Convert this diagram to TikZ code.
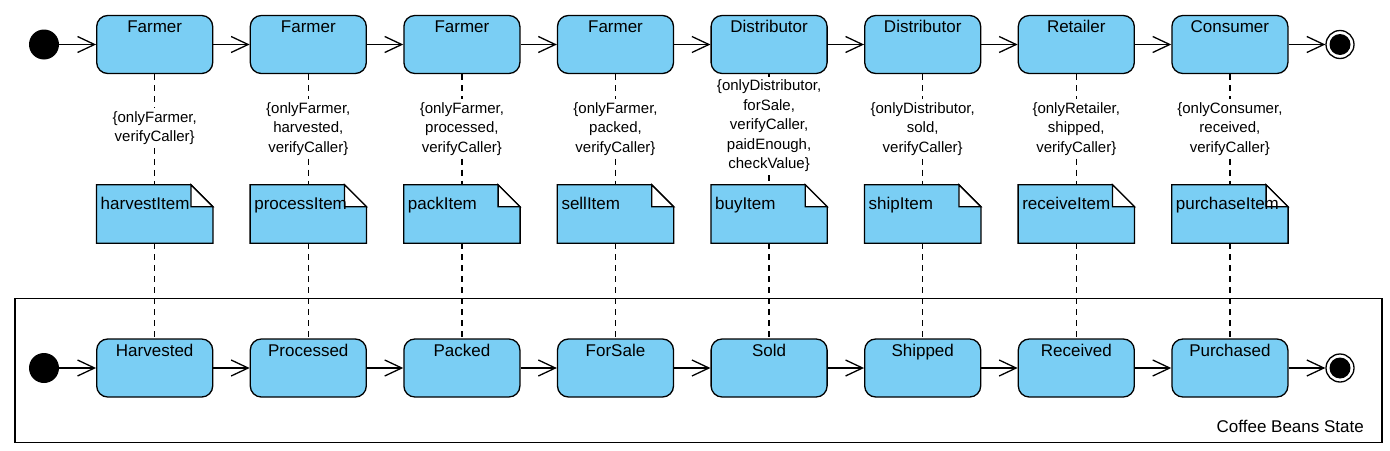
\documentclass[tikz,border=0pt]{standalone}
\usepackage{fontspec}
\setmainfont{Liberation Sans}
\usetikzlibrary{arrows.meta,backgrounds}
\definecolor{bfill}{HTML}{7ACEF4}
\tikzset{
 stbox/.style={draw, fill=bfill, rounded corners=11pt, line width=1.3pt, minimum width=116pt, minimum height=58pt, inner xsep=2pt, inner ysep=5pt, text height=12pt, text depth=36pt, font=\fontsize{17}{20}\selectfont},
 notebox/.style={minimum height=58pt, text width=108pt, align=left, inner xsep=4pt, inner ysep=4pt, text height=20pt, text depth=30pt, font=\fontsize{17}{20}\selectfont},
 cond/.style={align=center, font=\fontsize{15}{19.5}\selectfont, inner sep=3pt},
 flow/.style={-{Straight Barb[length=17pt,width=16pt,line width=1.3pt]}, line width=1.3pt},
 link/.style={dash pattern=on 6pt off 5pt, line width=1.3pt},
 startdot/.style={circle, fill=black, minimum size=30pt, inner sep=0pt},
 enddot/.style={circle, draw, fill=white, line width=1.3pt, minimum size=28pt, inner sep=0pt, path picture={\fill[black] (path picture bounding box.center) circle (10.5pt);}},
 framebox/.style={draw, line width=1.3pt},
}
\begin{document}
\begin{tikzpicture}[x=1pt,y=-1pt]
\useasboundingbox (0,0) rectangle (1390,450);
% frame
\draw[framebox] (15,298.3) rectangle (1382,442.5);
\node[font=\fontsize{17}{20}\selectfont, anchor=base east, inner sep=0pt] (title) at (1364,432) {Coffee Beans State};
% top row
\node[startdot] (s0) at (44,44.5) {};
\node[stbox] (a1) at (154.7,44.5) {Farmer};
\node[stbox] (a2) at (308.3,44.5) {Farmer};
\node[stbox] (a3) at (461.9,44.5) {Farmer};
\node[stbox] (a4) at (615.5,44.5) {Farmer};
\node[stbox] (a5) at (769.1,44.5) {Distributor};
\node[stbox] (a6) at (922.7,44.5) {Distributor};
\node[stbox] (a7) at (1076.3,44.5) {Retailer};
\node[stbox] (a8) at (1229.9,44.5) {Consumer};
\node[enddot] (e0) at (1340,44.5) {};
% conditions
\node[cond] (c1) at (154.7,128) {\{onlyFarmer,\\verifyCaller\}};
\node[cond] (c2) at (308.3,129) {\{onlyFarmer,\\harvested,\\verifyCaller\}};
\node[cond] (c3) at (461.9,129) {\{onlyFarmer,\\processed,\\verifyCaller\}};
\node[cond] (c4) at (615.5,129) {\{onlyFarmer,\\packed,\\verifyCaller\}};
\node[cond] (c5) at (769.1,126) {\{onlyDistributor,\\forSale,\\verifyCaller,\\paidEnough,\\checkValue\}};
\node[cond] (c6) at (922.7,129) {\{onlyDistributor,\\sold,\\verifyCaller\}};
\node[cond] (c7) at (1076.3,129) {\{onlyRetailer,\\shipped,\\verifyCaller\}};
\node[cond] (c8) at (1229.9,129) {\{onlyConsumer,\\received,\\verifyCaller\}};
% notes
\node[notebox] (n1) at (154.7,214) {harvestItem};
\node[notebox] (n2) at (308.3,214) {processItem};
\node[notebox] (n3) at (461.9,214) {packItem};
\node[notebox] (n4) at (615.5,214) {sellItem};
\node[notebox] (n5) at (769.1,214) {buyItem};
\node[notebox] (n6) at (922.7,214) {shipItem};
\node[notebox] (n7) at (1076.3,214) {receiveItem};
\node[notebox] (n8) at (1229.9,214) {purchaseItem};
% bottom row
\node[startdot] (t0) at (44,368) {};
\node[stbox] (b1) at (154.7,368) {Harvested};
\node[stbox] (b2) at (308.3,368) {Processed};
\node[stbox] (b3) at (461.9,368) {Packed};
\node[stbox] (b4) at (615.5,368) {ForSale};
\node[stbox] (b5) at (769.1,368) {Sold};
\node[stbox] (b6) at (922.7,368) {Shipped};
\node[stbox] (b7) at (1076.3,368) {Received};
\node[stbox] (b8) at (1229.9,368) {Purchased};
\node[enddot] (f0) at (1340,368) {};
% note shapes
\begin{scope}[on background layer]
\foreach \i in {1,...,8}{
 \draw[line width=1.3pt, fill=bfill] (n\i.north west) -- ([xshift=-22pt]n\i.north east) -- ([yshift=-22pt]n\i.north east) -- (n\i.south east) -- (n\i.south west) -- cycle;
 \draw[line width=1.3pt, fill=white] ([xshift=-22pt]n\i.north east) -- ([xshift=-22pt,yshift=-22pt]n\i.north east) -- ([yshift=-22pt]n\i.north east) -- cycle;
}
\end{scope}
% flows
\draw[flow] (s0) -- (a1);
\draw[flow] (a1) -- (a2);
\draw[flow] (a2) -- (a3);
\draw[flow] (a3) -- (a4);
\draw[flow] (a4) -- (a5);
\draw[flow] (a5) -- (a6);
\draw[flow] (a6) -- (a7);
\draw[flow] (a7) -- (a8);
\draw[flow] (a8) -- (e0);
\draw[flow] (t0) -- (b1);
\draw[flow] (b1) -- (b2);
\draw[flow] (b2) -- (b3);
\draw[flow] (b3) -- (b4);
\draw[flow] (b4) -- (b5);
\draw[flow] (b5) -- (b6);
\draw[flow] (b6) -- (b7);
\draw[flow] (b7) -- (b8);
\draw[flow] (b8) -- (f0);
% dashed links
\foreach \i in {1,...,8}{
 \draw[link] (a\i) -- (c\i);
 \draw[link] (c\i) -- (n\i);
 \draw[link] (n\i) -- (b\i);
}
\end{tikzpicture}
\end{document}
